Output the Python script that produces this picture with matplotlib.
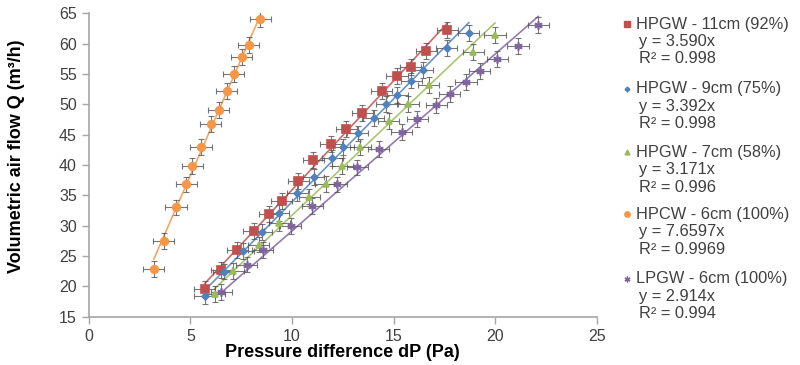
import matplotlib.pyplot as plt
from matplotlib.lines import Line2D

plt.rcParams['font.family'] = ['Liberation Sans', 'DejaVu Sans']

# data
hpgw11_x = [5.71, 6.52, 7.31, 8.11, 8.88, 9.49, 10.30, 11.05, 11.92, 12.67, 13.45, 14.42, 15.17, 15.85, 16.60, 17.64]
hpgw11_y = [19.6, 22.7, 26.0, 29.1, 31.9, 34.1, 37.4, 40.8, 43.4, 45.9, 48.6, 52.2, 54.7, 56.1, 58.75, 62.2]

hpgw9_x = [5.71, 6.65, 7.60, 8.52, 9.34, 10.25, 11.07, 11.99, 12.53, 13.24, 14.02, 14.63, 15.19, 15.86, 16.44, 17.62, 18.70]
hpgw9_y = [18.4, 22.45, 25.9, 29.0, 32.1, 35.4, 38.0, 41.1, 43.0, 45.2, 47.7, 50.0, 51.5, 53.9, 55.7, 59.2, 61.7]

hpgw7_x = [6.19, 7.11, 8.37, 9.37, 10.85, 11.66, 12.48, 13.36, 14.76, 15.73, 16.73, 18.92, 19.99]
hpgw7_y = [18.7, 22.6, 26.9, 30.4, 34.8, 36.9, 39.8, 43.0, 47.2, 50.0, 53.2, 58.6, 61.4]

hpcw6_x = [3.20, 3.69, 4.29, 4.79, 5.09, 5.52, 6.01, 6.39, 6.78, 7.14, 7.52, 7.88, 8.44]
hpcw6_y = [22.9, 27.5, 33.0, 36.8, 39.8, 42.9, 46.7, 49.0, 52.2, 55.0, 57.8, 59.7, 64.0]

lpgw6_x = [6.52, 7.77, 8.56, 9.94, 11.00, 12.20, 13.22, 14.27, 15.40, 16.17, 17.09, 17.77, 18.56, 19.23, 20.10, 21.12, 22.12]
lpgw6_y = [19.1, 23.6, 26.0, 29.9, 33.3, 36.8, 39.6, 42.6, 45.4, 47.6, 49.8, 51.7, 53.65, 55.5, 57.5, 59.6, 63.1]

names = ['HPGW - 11cm (92%)', 'HPGW - 9cm (75%)', 'HPGW - 7cm (58%)',
         'HPCW - 6cm (100%)', 'LPGW - 6cm (100%)']
slopes = [3.590, 3.392, 3.171, 7.6597, 2.914]
slope_txt = ['3.590', '3.392', '3.171', '7.6597', '2.914']
r2_txt = ['0.998', '0.998', '0.996', '0.9969', '0.994']

xs = [hpgw11_x, hpgw9_x, hpgw7_x, hpcw6_x, lpgw6_x]
ys = [hpgw11_y, hpgw9_y, hpgw7_y, hpcw6_y, lpgw6_y]

colors = ['#C0504D', '#4F81BD', '#9BBB59', '#F79646', '#8064A2']
markers = ['s', 'D', '^', 'o', (6, 2, 0)]
msizes = [5.5, 3.5, 5, 5.5, 6]

fig = plt.figure(figsize=(8, 3.65), dpi=100)
ax = fig.add_axes([0.111, 0.132, 0.635, 0.832])

for x, y, k, c, m, ms in zip(xs, ys, slopes, colors, markers, msizes):
    x0, x1 = min(x), max(x)
    ax.plot([x0, x1], [k * x0, k * x1], color=c, lw=1.2, alpha=0.85, zorder=2)
    ax.errorbar(x, y, xerr=0.52, yerr=1.3, fmt='none', ecolor='#555555',
                elinewidth=0.8, capsize=2.5, capthick=0.8, alpha=0.8, zorder=3)
    ax.plot(x, y, ls='none', marker=m, ms=ms, color=c, mec=c, mew=1.2, zorder=4)

ax.set_xlim(0, 25)
ax.set_ylim(15, 65)
ax.set_xticks(range(0, 26, 5))
ax.set_yticks(range(15, 66, 5))
for s in ['top', 'right']:
    ax.spines[s].set_visible(False)
for s in ['left', 'bottom']:
    ax.spines[s].set_color('#a6a6a6')
    ax.spines[s].set_linewidth(1.2)
ax.tick_params(direction='out', length=5, width=1.0, color='#a6a6a6',
               labelsize=11.5, labelcolor='#404040')
ax.set_xlabel('Pressure difference dP (Pa)', fontsize=13, fontweight='bold', labelpad=0)
ax.set_ylabel('Volumetric air flow Q (m³/h)', fontsize=13, fontweight='bold', va='center')
ax.yaxis.set_label_coords(-0.142, 0.53)

# legend entries with equation and R² under each name
top_px = [24, 89, 152, 214, 279]
for i in range(5):
    yf = 1 - top_px[i] / 365
    fig.add_artist(Line2D([627 / 800], [yf], transform=fig.transFigure,
                          marker=markers[i], ms=msizes[i] * 0.7, color=colors[i],
                          mec=colors[i], ls='none'))
    fig.text(636 / 800, yf, names[i], fontsize=11.8, color='#404040', va='center')
    fig.text(639 / 800, yf - 17.5 / 365, 'y = ' + slope_txt[i] + 'x', fontsize=11.8,
             color='#404040', va='center')
    fig.text(639 / 800, yf - 35 / 365, 'R² = ' + r2_txt[i], fontsize=11.8,
             color='#404040', va='center')

fig.savefig('out.png', dpi=100)
